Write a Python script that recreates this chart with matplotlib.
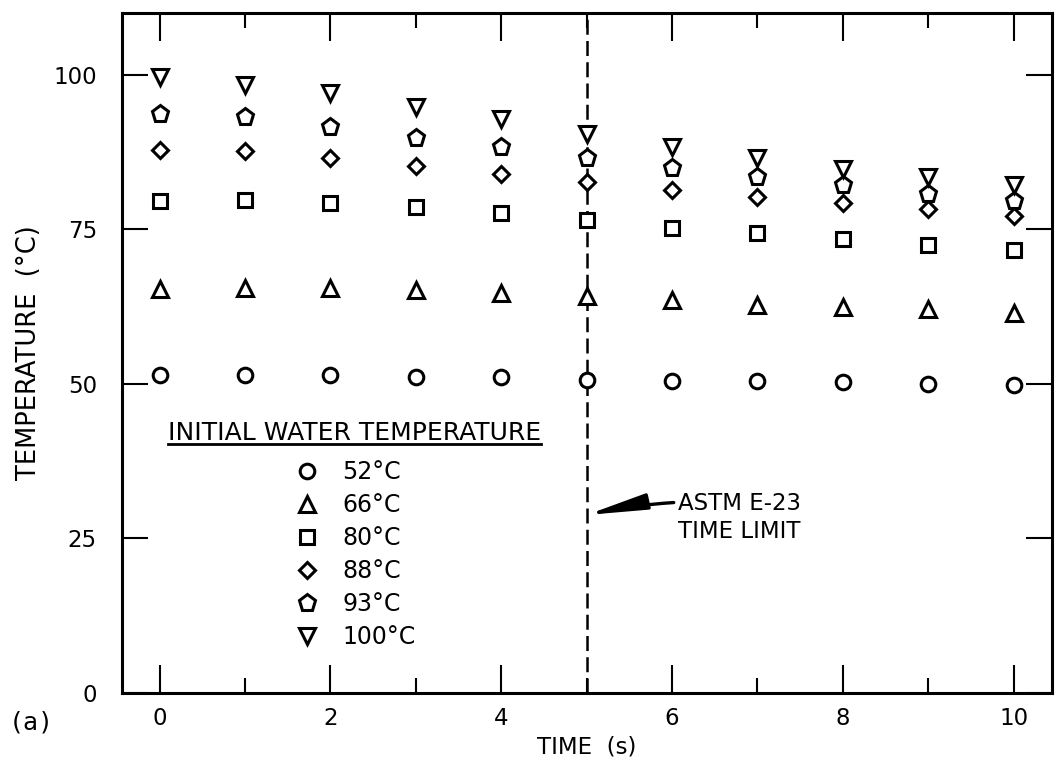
import numpy as np
import matplotlib
matplotlib.use("Agg")
import matplotlib.pyplot as plt
from matplotlib.ticker import MultipleLocator

plt.rcParams['font.family'] = ['DejaVu Sans']

# time (s) and measured temperatures (deg C) for each initial water temperature
time_s = [0, 1, 2, 3, 4, 5, 6, 7, 8, 9, 10]
t52 = [51.4, 51.4, 51.4, 51.1, 51.1, 50.7, 50.5, 50.4, 50.3, 50.0, 49.8]
t66 = [65.4, 65.5, 65.5, 65.2, 64.7, 64.3, 63.5, 62.8, 62.4, 62.1, 61.5]
t80 = [79.6, 79.8, 79.2, 78.6, 77.7, 76.5, 75.3, 74.4, 73.5, 72.4, 71.6]
t88 = [87.9, 87.6, 86.5, 85.3, 84.0, 82.6, 81.4, 80.3, 79.2, 78.3, 77.1]
t93 = [93.6, 93.1, 91.5, 89.8, 88.4, 86.5, 85.0, 83.5, 82.1, 80.7, 79.6]
t100 = [99.6, 98.4, 97.0, 94.8, 92.8, 90.4, 88.4, 86.6, 84.8, 83.4, 82.1]

series_labels = ["52°C", "66°C", "80°C", "88°C", "93°C", "100°C"]
series_values = [t52, t66, t80, t88, t93, t100]
series_markers = ['o', '^', 's', 'D', 'p', 'v']
marker_sizes = [10.5, 11, 10.5, 8.5, 12.5, 11.5]

time_limit = 5
fs = 16.5

fig = plt.figure(figsize=(10.55, 7.66), dpi=100)
ax = fig.add_axes([0.1156, 0.0953, 0.8815, 0.8877])

for vals, lab, mk, ms in zip(series_values, series_labels, series_markers, marker_sizes):
    ax.plot(time_s, vals, linestyle='none', marker=mk, ms=ms, mfc='white',
            mec='black', mew=2.2, label=lab, zorder=3)

ax.axvline(time_limit, color='black', lw=1.8, ls=(0, (6, 2.5)), zorder=2)

ax.annotate("ASTM E-23\nTIME LIMIT", xy=(time_limit, 28.8), xytext=(6.07, 28.4),
            ha='left', va='center', fontsize=fs, linespacing=1.25,
            arrowprops=dict(arrowstyle='-|>,head_length=1.8,head_width=0.24',
                            color='black', lw=2.4, relpos=(0, 0.8),
                            shrinkA=1, shrinkB=0, mutation_scale=20,
                            connectionstyle='arc3,rad=0.04'))

ax.set_xlim(-0.44, 10.45)
ax.set_ylim(0, 110)
ax.xaxis.set_major_locator(MultipleLocator(2))
ax.xaxis.set_minor_locator(MultipleLocator(1))
ax.set_yticks([0, 25, 50, 75, 100])

ax.tick_params(axis='both', which='both', direction='in', top=True, right=True,
               colors='black', labelsize=fs)
ax.tick_params(axis='x', which='major', length=20, width=1.5, pad=10)
ax.tick_params(axis='x', which='minor', length=11, width=1.5)
ax.tick_params(axis='y', which='major', length=19, width=1.5, pad=18)

for sp in ax.spines.values():
    sp.set_linewidth(2.2)

ax.set_xlabel("TIME  (s)", fontsize=fs)
ax.set_ylabel("TEMPERATURE  (°C)", fontsize=18.5)
ax.xaxis.set_label_coords(0.5, -0.062)
ax.yaxis.set_label_coords(-0.086, 0.5)

leg = ax.legend(loc='upper center', bbox_to_anchor=(0.25, 0.414), frameon=False,
                title="INITIAL WATER TEMPERATURE", title_fontsize=18, fontsize=17,
                numpoints=1, handlelength=1.2, handletextpad=0.9, labelspacing=0.38,
                borderaxespad=0)
leg._legend_box.sep = 11
fig.canvas.draw()
tb = leg.get_title().get_window_extent().transformed(ax.transAxes.inverted())
ax.plot([tb.x0, tb.x1], [tb.y0 + 0.002, tb.y0 + 0.002], color='black', lw=2,
        transform=ax.transAxes, clip_on=False)

fig.text(0.008, 0.057, "(a)", fontsize=18, family=['DejaVu Sans Mono'],
         ha='left', va='center')

fig.savefig("out.png", dpi=100)
